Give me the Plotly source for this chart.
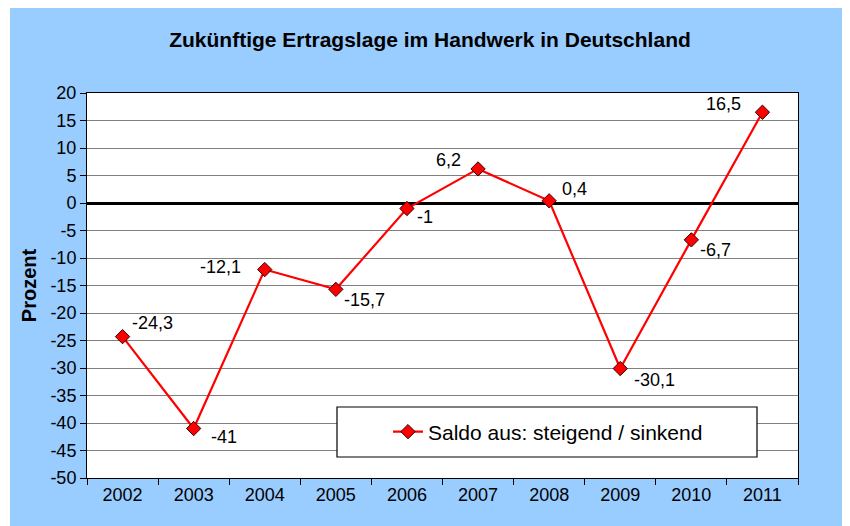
import plotly.graph_objects as go

years = ["2002", "2003", "2004", "2005", "2006", "2007", "2008", "2009", "2010", "2011"]
saldo = [-24.3, -41, -12.1, -15.7, -1, 6.2, 0.4, -30.1, -6.7, 16.5]
labels = ["-24,3", "-41", "-12,1", "-15,7", "-1", "6,2", "0,4", "-30,1", "-6,7", "16,5"]
y_ticks = [-50, -45, -40, -35, -30, -25, -20, -15, -10, -5, 0, 5, 10, 15, 20]
y_ticktext = ["-50", "-45", "-40", "-35", "-30", "-25", "-20", "-15", "-10", "-5", "0", "5", "10", "15", "20"]
series_name = "Saldo aus: steigend / sinkend"
title = "Zukünftige Ertragslage im Handwerk in Deutschland"
y_title = "Prozent"

# label placement (style): anchor side and pixel offsets from each point
label_anchor = ["left", "left", "right", "left", "left", "right", "left", "left", "left", "right"]
label_dx = [7, 15, -22, 6, 8, -15, 11, 12, 7, -19]
label_dy = [14, -8, 3, -11, -8, 9, 12, -11, -10, 8]

OFF = 8  # default page body margin
W, H = 850 - OFF, 526 - OFF
# plot area in page pixel coordinates
PL, PR, PT, PB = 87, 798, 93, 478
L, R, T, B = PL - OFF, PR - OFF, PT - OFF, PB - OFF

def px_x(p):
    return (p - PL) / (PR - PL)

def px_y(p):
    return (PB - p) / (PB - PT)

FONT = "Liberation Sans, Arial, Helvetica"

fig = go.Figure()
fig.add_trace(go.Scatter(
    x=years, y=saldo, mode="lines+markers", name=series_name,
    line=dict(color="#FF0000", width=2.2),
    marker=dict(symbol="diamond", size=11, color="#FF0000",
                line=dict(color="#330000", width=1)),
    cliponaxis=False,
))

annotations = []
# category axis: annotations positioned by category index (serial number)
for i, (v, t, a, dx, dy) in enumerate(zip(saldo, labels, label_anchor, label_dx, label_dy)):
    annotations.append(dict(x=i, y=v, xref="x", yref="y", text=t, showarrow=False,
                            xanchor=a, yanchor="middle", xshift=dx, yshift=dy,
                            font=dict(family=FONT, size=18, color="black")))

shapes = [
    # thin white strip at the left of the blue chart area
    dict(type="rect", xref="paper", yref="paper", x0=px_x(OFF), x1=px_x(10), y0=px_y(526), y1=px_y(OFF),
         fillcolor="white", line=dict(width=0), layer="below"),
    # legend box
    dict(type="rect", xref="paper", yref="paper", x0=px_x(337), x1=px_x(757), y0=px_y(457), y1=px_y(407),
         fillcolor="white", line=dict(color="black", width=1.2), layer="above"),
]

fig.update_layout(
    width=W, height=H,
    margin=dict(l=L, r=W - R, t=T, b=H - B, pad=0),
    paper_bgcolor="#99CCFF",
    plot_bgcolor="white",
    font=dict(family=FONT, size=18, color="black"),
    title=dict(text="<b>" + title + "</b>", x=(430 - OFF) / W, xref="container", xanchor="center",
               y=1 - (40 - OFF) / H, yref="container", yanchor="middle",
               font=dict(size=21, color="black")),
    showlegend=True,
    legend=dict(x=px_x(548), y=px_y(432), xanchor="center", yanchor="middle",
                bgcolor="rgba(0,0,0,0)", borderwidth=0,
                font=dict(size=21, color="black")),
    shapes=shapes,
    annotations=annotations,
    xaxis=dict(type="category", range=[-0.5, 9.5], tickson="boundaries", ticks="outside", ticklen=6,
               tickcolor="black", showgrid=False, showline=True, linecolor="black",
               linewidth=1, mirror=True, tickfont=dict(size=18)),
    yaxis=dict(range=[-50, 20], tickmode="array", tickvals=y_ticks, ticktext=y_ticktext,
               ticks="outside", ticklen=6,
               tickcolor="black", showgrid=True, gridcolor="#808080", gridwidth=1,
               zeroline=True, zerolinecolor="black", zerolinewidth=2.5,
               showline=True, linecolor="black", linewidth=1, mirror=True,
               tickfont=dict(size=18),
               title=dict(text="<b>" + y_title + "</b>", font=dict(size=20), standoff=8)),
)

fig.write_html("out.html")
